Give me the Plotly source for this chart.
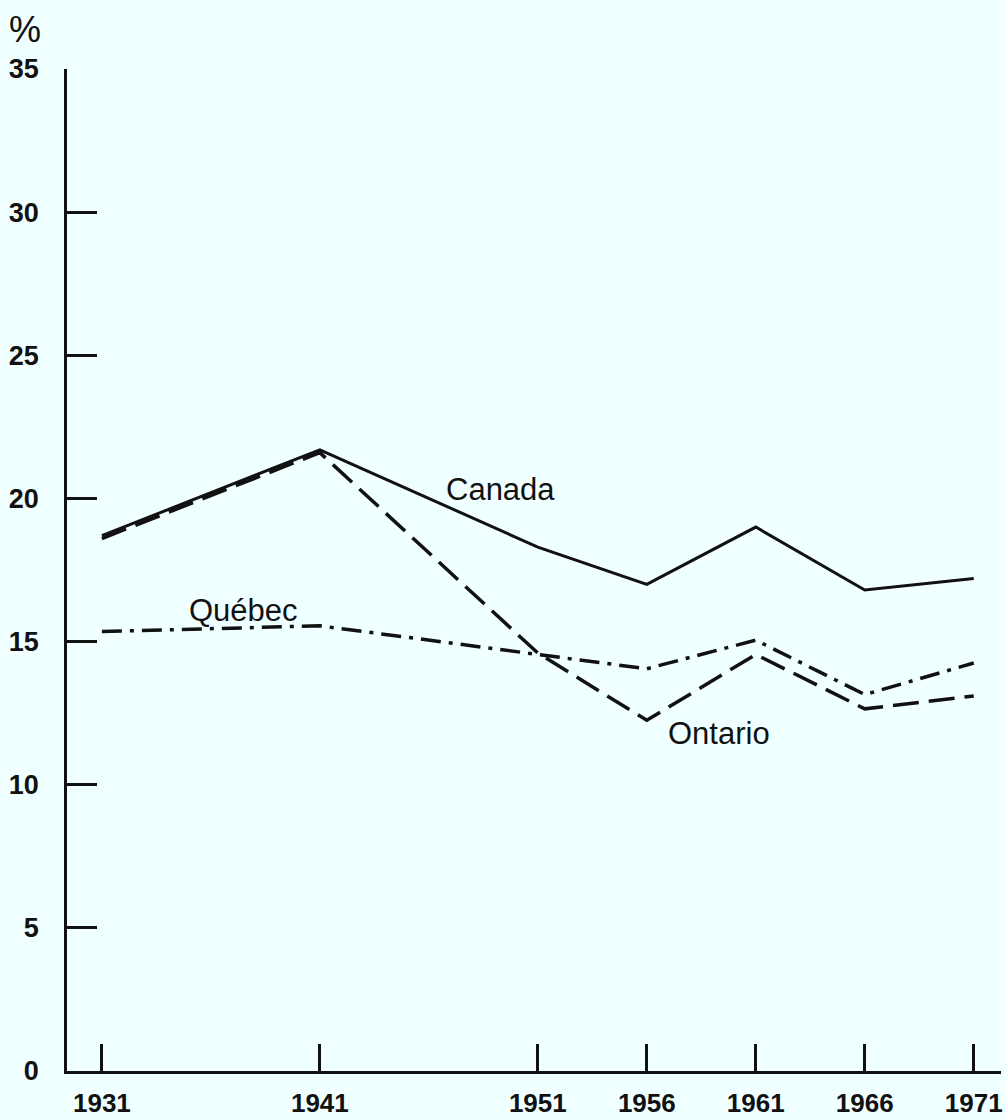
import plotly.graph_objects as go

years = [1931, 1941, 1951, 1956, 1961, 1966, 1971]
tick_labels = ["1931", "1941", "1951", "1956", "1961", "1966", "1971"]
canada = [18.7, 21.7, 18.3, 17.0, 19.0, 16.8, 17.2]
ontario = [18.6, 21.6, 14.6, 12.25, 14.55, 12.65, 13.1]
quebec = [15.35, 15.55, 14.55, 14.05, 15.05, 13.15, 14.25]
y_ticks = [0, 5, 10, 15, 20, 25, 30, 35]

label_names = ["Canada", "Québec", "Ontario"]
label_x = [1949.3, 1937.5, 1959.3]
label_y = [20.3, 16.1, 11.8]

BG = "#F0FFFF"
INK = "#111111"
SANS = "Liberation Sans, Arial, Helvetica, sans-serif"

fig = go.Figure()
fig.add_trace(go.Scatter(x=years, y=ontario, mode="lines",
                         line=dict(color=INK, width=3.5, dash="26px,10px"),
                         showlegend=False, hoverinfo="skip"))
fig.add_trace(go.Scatter(x=years, y=quebec, mode="lines",
                         line=dict(color=INK, width=3.5, dash="20px,8px,4px,8px"),
                         showlegend=False, hoverinfo="skip"))
fig.add_trace(go.Scatter(x=years, y=canada, mode="lines",
                         line=dict(color=INK, width=3),
                         showlegend=False, hoverinfo="skip"))

for name, lx, ly in zip(label_names, label_x, label_y):
    fig.add_annotation(x=lx, y=ly, text=name, showarrow=False,
                       font=dict(family=SANS, size=31, color=INK),
                       xanchor="center", yanchor="middle")

fig.add_annotation(xref="paper", yref="paper", x=-0.045, y=1.039, text="%",
                   showarrow=False, font=dict(family=SANS, size=36, color=INK),
                   xanchor="center", yanchor="middle")

fig.update_layout(
    width=1005, height=1120,
    margin=dict(l=67, r=2, t=69, b=43),
    paper_bgcolor=BG, plot_bgcolor=BG,
    showlegend=False,
)
fig.update_xaxes(
    range=[1929.4, 1972.25], tickmode="array", tickvals=years, ticktext=tick_labels,
    ticks="inside", ticklen=27, tickwidth=2.5, tickcolor=INK,
    showline=True, linecolor=INK, linewidth=3, showgrid=False, zeroline=False,
    tickfont=dict(family=SANS, size=26, color=INK, weight="bold"),
    ticklabelstandoff=7, ticklabeloverflow="allow",
)
fig.update_yaxes(
    range=[0, 35], tickmode="array", tickvals=y_ticks,
    ticks="inside", ticklen=30, tickwidth=3, tickcolor=INK,
    showline=True, linecolor=INK, linewidth=2.5, showgrid=False, zeroline=False,
    tickfont=dict(family=SANS, size=27, color=INK, weight="bold"),
    ticklabelstandoff=20,
)

fig.write_html(
    "out.html",
    config={"displayModeBar": False},
    post_script="document.body.style.margin='0';document.body.style.background='#F0FFFF';",
)
